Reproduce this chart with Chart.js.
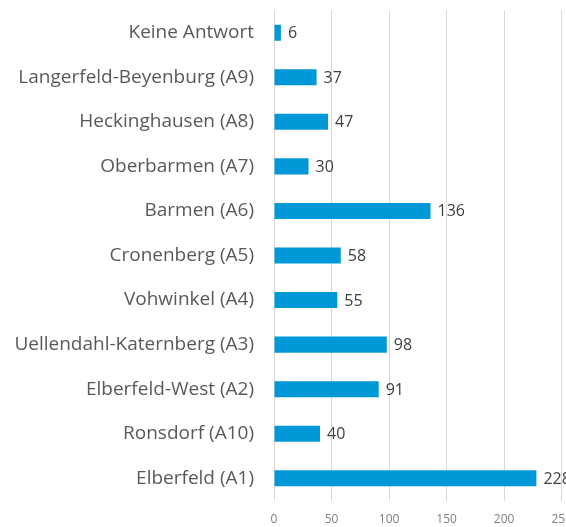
<!DOCTYPE html>
<html>
<head>
<meta charset="utf-8">
<script src="https://cdn.jsdelivr.net/npm/chart.js@4"></script>
<style>
  html, body { margin: 0; padding: 0; overflow: hidden; background: #fff; }
  #wrap { position: absolute; left: 0; top: -21px; width: 584px; height: 561px; }
</style>
</head>
<body>
<div id="wrap"><canvas id="myChart"></canvas></div>
<script>
// Stadtbezirke, von oben nach unten
const bezirke = [
  'Keine Antwort',
  'Langerfeld-Beyenburg (A9)',
  'Heckinghausen (A8)',
  'Oberbarmen (A7)',
  'Barmen (A6)',
  'Cronenberg (A5)',
  'Vohwinkel (A4)',
  'Uellendahl-Katernberg (A3)',
  'Elberfeld-West (A2)',
  'Ronsdorf (A10)',
  'Elberfeld (A1)'
];
const anzahl = [6, 37, 47, 30, 136, 58, 55, 98, 91, 40, 228];
const xTicks = [0, 50, 100, 150, 200, 250];

// Zahlen rechts neben den Balken
const wertLabels = {
  id: 'wertLabels',
  afterDatasetsDraw(chart) {
    const ctx = chart.ctx;
    const meta = chart.getDatasetMeta(0);
    ctx.save();
    ctx.font = '16px "Open Sans"';
    ctx.fillStyle = '#404040';
    ctx.textBaseline = 'middle';
    ctx.textAlign = 'left';
    meta.data.forEach((bar, i) => {
      ctx.fillText(String(anzahl[i]), bar.x + 7, bar.y + 1);
    });
    ctx.restore();
  }
};

var myChart = new Chart('myChart', {
  type: 'bar',
  data: {
    labels: bezirke,
    datasets: [{
      data: anzahl,
      backgroundColor: '#0098d6',
      barPercentage: 0.36,
      categoryPercentage: 1
    }]
  },
  options: {
    indexAxis: 'y',
    responsive: true,
    maintainAspectRatio: false,
    animation: false,
    layout: { padding: { top: 8, bottom: 1, left: 0, right: 0 } },
    plugins: {
      legend: { display: false },
      tooltip: { enabled: false }
    },
    scales: {
      x: {
        min: 0,
        max: 250,
        afterBuildTicks: (scale) => { scale.ticks = xTicks.map(v => ({ value: v })); },
        grid: { color: '#d9d9d9', drawTicks: false },
        border: { display: false },
        ticks: {
          padding: 12,
          color: '#808080',
          font: { family: 'Open Sans', size: 12 }
        }
      },
      y: {
        afterFit: (scale) => { scale.width = 274; },
        grid: { display: false, drawTicks: false },
        border: { display: true, color: '#d9d9d9' },
        ticks: {
          padding: 20,
          color: '#595959',
          font: { family: 'Open Sans', size: 19 }
        }
      }
    }
  },
  plugins: [wertLabels]
});
</script>
</body>
</html>
